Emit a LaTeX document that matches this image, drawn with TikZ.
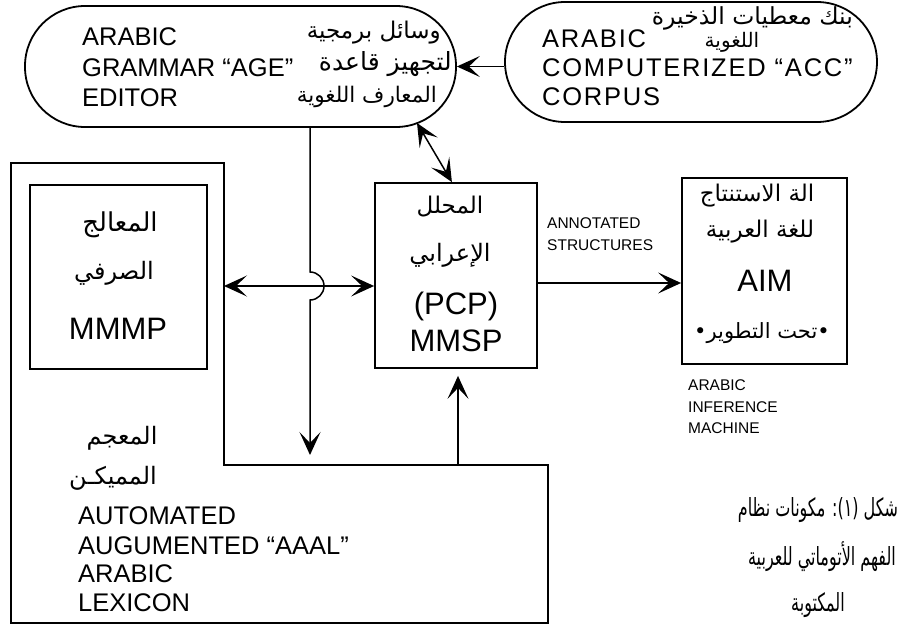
\documentclass[tikz,border=0pt]{standalone}
\usepackage{fontspec}
\setmainfont{Liberation Sans}
\newfontfamily\arabicfont[Script=Arabic]{DejaVu Sans}
\TeXXeTstate=1
\usetikzlibrary{arrows.meta,calc}
\newcommand\artxt[1]{{\arabicfont\beginR #1\endR}}
\tikzset{
  >={Stealth[length=23pt,width=21pt,inset=11pt]},
  arr/.style={line width=1.5pt,->},
  dbl/.style={line width=1.5pt,<->},
  box/.style={draw,line width=1.8pt,inner sep=0pt},
  stadium/.style={box,rounded corners=60pt},
  en/.style={inner sep=0pt,anchor=west,text height=18pt,text depth=0pt,font=\fontsize{25.5}{25.5}\selectfont},
  enbig/.style={inner sep=0pt,text height=22pt,text depth=0pt,font=\fontsize{31}{31}\selectfont},
  ensmall/.style={inner sep=0pt,anchor=west,text height=11pt,text depth=0pt,font=\fontsize{15.5}{15.5}\selectfont},
  ar/.style={inner sep=0pt,font=\fontsize{23}{23}\selectfont},
  arcap/.style={inner sep=0pt,font=\fontsize{24}{24}\selectfont},
  capt/.style={inner sep=0pt,font=\fontsize{25}{25}\selectfont},
}
\begin{document}
\begin{tikzpicture}[x=1pt,y=-1pt]
\useasboundingbox (0,0) rectangle (900,639);
% boxes
\node[stadium,minimum width=431pt,minimum height=121pt] (age) at (240.5,66.5) {};
\node[stadium,minimum width=372pt,minimum height=120pt] (corpus) at (691,62) {};
\node[box,minimum width=177pt,minimum height=184pt] (mmmp) at (118.5,277) {};
\node[box,minimum width=162pt,minimum height=185pt] (pcp) at (456,275.5) {};
\node[box,minimum width=165pt,minimum height=186pt] (aim) at (764.5,271) {};
% lexicon outline
\coordinate (lxA) at (11,163);
\coordinate (lxB) at (224,163);
\coordinate (lxC) at (224,465);
\coordinate (lxD) at (548,465);
\coordinate (lxE) at (548,623);
\coordinate (lxF) at (11,623);
\draw[line width=1.8pt] (lxA) -- (lxB) -- (lxC) -- (lxD) -- (lxE) -- (lxF) -- cycle;

% AGE texts
\node[en] (ageA) at (82,37) {ARABIC};
\node[en] (ageB) at (82,68) {GRAMMAR “AGE”};
\node[en] (ageC) at (82,98) {EDITOR};
\node[ar,anchor=east] (ageR1) at (441,33) {\artxt{وسائل برمجية}};
\node[ar,anchor=east,font=\fontsize{25}{25}\selectfont] (ageR2) at (452,64) {\artxt{لتجهيز قاعدة}};
\node[ar,anchor=east,font=\fontsize{21.5}{21.5}\selectfont] (ageR3) at (437,97) {\artxt{المعارف اللغوية}};
% corpus texts
\node[en] (corA) at (542,39) {\addfontfeatures{LetterSpace=7}ARABIC};
\node[en] (corB) at (542,68) {\addfontfeatures{LetterSpace=7}COMPUTERIZED “ACC”};
\node[en] (corC) at (542,97) {\addfontfeatures{LetterSpace=7}CORPUS};
\node[ar,anchor=east,font=\fontsize{23.5}{23.5}\selectfont] (corR1) at (853,18) {\artxt{بنك معطيات الذخيرة}};
\node[ar,font=\fontsize{20}{20}\selectfont] (corR2) at (732,42) {\artxt{اللغوية}};
% MMMP texts
\node[arcap,font=\fontsize{26}{26}\selectfont] (mmR1) at (120,225) {\artxt{المعالج}};
\node[arcap] (mmR2) at (114,273) {\artxt{الصرفي}};
\node[enbig] (mmE) at (118,328) {MMMP};
% PCP texts
\node[arcap,font=\fontsize{23}{23}\selectfont] (pcR1) at (450,207) {\artxt{المحلل}};
\node[arcap] (pcR2) at (450,255) {\artxt{الإعرابي}};
\node[enbig] (pcE1) at (456,303) {(PCP)};
\node[enbig] (pcE2) at (456,340) {MMSP};
% AIM texts
\node[ar] (aiR1) at (757,196) {\artxt{الة الاستنتاج}};
\node[ar] (aiR2) at (760,232) {\artxt{للغة العربية}};
\node[enbig] (aiE) at (765,280) {AIM};
\node[ar,font=\fontsize{21}{21}\selectfont] (aiR3) at (762,333) {{\arabicfont •\beginR تحت التطوير\endR•}};
\node[ensmall] (aiN1) at (688,385) {ARABIC};
\node[ensmall] (aiN2) at (688,407) {INFERENCE};
\node[ensmall] (aiN3) at (688,428) {MACHINE};
% annotated
\node[ensmall] (anA) at (547,223) {ANNOTATED};
\node[ensmall] (anB) at (547,245) {STRUCTURES};
% lexicon texts
\node[arcap] (lxR1) at (122,438) {\artxt{المعجم}};
\node[arcap] (lxR2) at (113,478) {\artxt{المميكـن}};
\node[en] (lxE1) at (78,515) {AUTOMATED};
\node[en] (lxE2) at (78,545) {AUGUMENTED “AAAL”};
\node[en] (lxE3) at (78,573) {ARABIC};
\node[en] (lxE4) at (78,602) {LEXICON};
% caption
\node[capt] (cap1) at (818,510) {\scalebox{0.64}[1]{\arabicfont\beginR شكل \beginL(١):\endL{} مكونات نظام\endR}};
\node[capt] (cap2) at (822,557) {\scalebox{0.64}[1]{\artxt{الفهم الأتوماتي للعربية}}};
\node[capt] (cap3) at (818,605) {\scalebox{0.64}[1]{\artxt{المكتوبة}}};

% connectors
\draw[arr] (corpus.west |- age.east) -- (age.east);
\coordinate (dg1) at (417,123);
\draw[dbl] (dg1) -- ($(pcp.north west)!0.475!(pcp.north east)$);
\coordinate (hz) at (224,286);
\draw[dbl] (hz) -- (hz -| pcp.west);
\coordinate (vd) at (310,127);
\draw[arr,shorten >=10pt] (vd) -- (310,272) arc[start angle=90,end angle=-90,radius=14pt] -- (vd |- lxC);
\coordinate (pa) at (537,283);
\draw[arr] (pa) -- (pa -| aim.west);
\coordinate (up) at (458,465);
\draw[arr,shorten >=7pt] (up) -- (up |- pcp.south);
\end{tikzpicture}
\end{document}
